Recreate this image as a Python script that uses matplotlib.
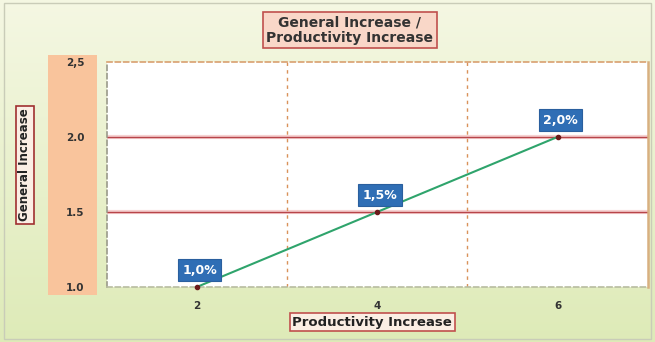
import numpy as np, matplotlib
matplotlib.use("Agg"); import matplotlib.pyplot as plt
from matplotlib.patches import Rectangle

# data
productivity = [2, 4, 6]
general = [1.0, 1.5, 2.0]
point_labels = ["1,0%", "1,5%", "2,0%"]
xticks = [2, 4, 6]
yticks = [1.0, 1.5, 2.0, 2.5]
ytick_labels = ["1.0", "1.5", "2.0", "2,5"]

fig = plt.figure(figsize=(6.55, 3.42), dpi=100)

# soft green-yellow background gradient
bg = fig.add_axes([0, 0, 1, 1], zorder=-10)
grad = np.linspace(0, 1, 256)[:, None]
top = np.array([0.96, 0.97, 0.89]); bot = np.array([0.87, 0.92, 0.72])
img = top[None, None, :] * (1 - grad[..., None]) + bot[None, None, :] * grad[..., None]
bg.imshow(np.repeat(img, 4, axis=1), aspect="auto", extent=[0, 1, 0, 1])
bg.set_xlim(0, 1); bg.set_ylim(0, 1); bg.axis("off")
bg.add_patch(Rectangle((0.006, 0.01), 0.988, 0.98, fill=False, ec="#c9ccb8", lw=1))
# orange band behind y tick labels
bg.add_patch(Rectangle((0.073, 0.137), 0.075, 0.702, fc="#f9c49c", ec="none"))

ax = fig.add_axes([0.163, 0.161, 0.826, 0.658])
ax.set_facecolor("white")
ax.set_xlim(1, 7); ax.set_ylim(1.0, 2.5)
ax.set_xticks(xticks); ax.set_yticks(yticks); ax.set_yticklabels(ytick_labels)
ax.tick_params(length=0, labelsize=7.5, colors="#333333")
ax.tick_params(axis="y", pad=16)
ax.tick_params(axis="x", pad=10)
for lab in ax.get_xticklabels() + ax.get_yticklabels():
    lab.set_fontweight("bold")

for yv in [1.5, 2.0]:
    ax.axhline(yv, color="#f6d2d2", lw=3, zorder=1)
    ax.axhline(yv, color="#b8454a", lw=1.0, zorder=2)
for xv in [3, 5]:
    ax.axvline(xv, color="#d9925a", lw=1, ls=(0, (2.5, 3)), zorder=1)

for s in ["top", "left", "bottom"]:
    ax.spines[s].set_linestyle((0, (3, 2)))
    ax.spines[s].set_linewidth(1.2)
ax.spines["top"].set_color("#d9a070")
ax.spines["left"].set_color("#9a9a8a")
ax.spines["bottom"].set_color("#b8bca0")
ax.spines["right"].set_color("#d8b080"); ax.spines["right"].set_linewidth(1.8)

ax.plot(productivity, general, color="#2fa46c", lw=1.5, zorder=3,
        marker="o", ms=3, mfc="#6b1a1a", mec="#6b1a1a", clip_on=False)
for xv, yv, t in zip(productivity, general, point_labels):
    ax.annotate(t, (xv, yv), xytext=(2, 12), textcoords="offset points",
                ha="center", va="center", color="white", fontsize=9, fontweight="bold",
                bbox=dict(boxstyle="square,pad=0.35", fc="#2f6eb5", ec="#2a5f9e", lw=0.8),
                zorder=5, annotation_clip=False)

fig.text(0.534, 0.912, "General Increase /\nProductivity Increase", ha="center", va="center",
         fontsize=10, fontweight="bold", color="#333333", linespacing=1.15,
         bbox=dict(boxstyle="square,pad=0.25", fc="#f9d7c8", ec="#c0504d", lw=1.2))
fig.text(0.568, 0.058, "Productivity Increase", ha="center", va="center",
         fontsize=9.5, fontweight="bold", color="#222222",
         bbox=dict(boxstyle="square,pad=0.2", fc="#fbeee4", ec="#c0504d", lw=1.2))
fig.text(0.038, 0.518, "General Increase", ha="center", va="center", rotation=90,
         fontsize=8.5, fontweight="bold", color="#222222",
         bbox=dict(boxstyle="square,pad=0.2", fc="#fbeee4", ec="#a03030", lw=1.2))

fig.savefig("out.png", dpi=100)
